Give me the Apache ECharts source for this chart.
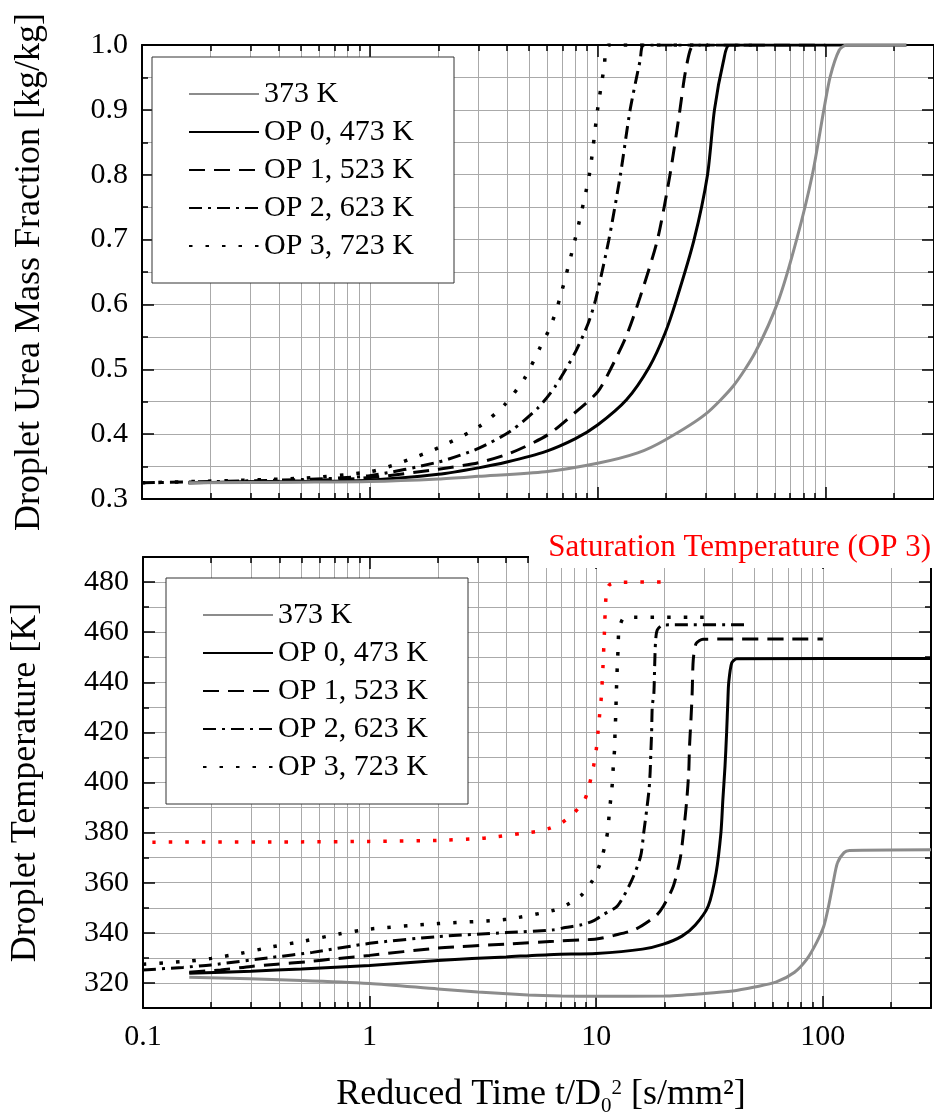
<!DOCTYPE html>
<html><head><meta charset="utf-8">
<script src="https://cdn.jsdelivr.net/npm/echarts@6/dist/echarts.min.js"></script>
<style>html,body{margin:0;padding:0;background:#fff}#c{width:934px;height:1118px}</style>
</head><body><div id="c"></div>
<script>
const FONT = 'Liberation Serif';
const seriesNames = ['373 K', 'OP 0, 473 K', 'OP 1, 523 K', 'OP 2, 623 K', 'OP 3, 723 K'];
const satName = 'Saturation Temperature (OP 3)';
const xLabelValues = [0.1, 1, 10, 100];
const tempMajorTicks = [320, 340, 360, 380, 400, 420, 440, 460, 480];

// Top: droplet urea mass fraction [kg/kg], points [t/D0^2, value]
const mass373 = [[0.16,0.325],[0.5,0.326],[1,0.327],[2,0.331],[3,0.335],[5.9,0.342],[10,0.355],[15,0.371],[19.8,0.391],[29.6,0.430],[39.6,0.475],[49.4,0.527],[62.4,0.607],[74.7,0.699],[87.7,0.80],[98.5,0.90],[105,0.951],[115,0.992],[124,1.0],[227,1.0]];
const massOP0 = [[0.16,0.325],[0.5,0.327],[1,0.329],[2,0.338],[3,0.348],[4,0.357],[5.9,0.373],[8,0.393],[10,0.414],[13.4,0.453],[16.9,0.504],[19.8,0.556],[22.2,0.607],[26.5,0.699],[30.4,0.80],[32.6,0.90],[35.8,0.977],[38,1.0],[227,1.0]];
const massOP1 = [[0.16,0.325],[0.5,0.328],[1,0.333],[2,0.346],[3,0.356],[4.16,0.371],[6.05,0.399],[7.95,0.433],[10,0.465],[11.4,0.500],[13.4,0.552],[15.4,0.612],[18.3,0.699],[20.8,0.80],[23,0.90],[24.1,0.951],[25.4,0.99],[26.5,1.0],[100,1.0]];
const massOP2 = [[0.1,0.325],[0.5,0.330],[1,0.336],[2,0.357],[3,0.378],[4.16,0.405],[5.46,0.440],[6.5,0.473],[7.95,0.525],[9.1,0.571],[9.8,0.607],[11.2,0.699],[12.6,0.80],[13.9,0.90],[15.4,0.977],[16,1.0],[47.6,1.0]];
const massOP3 = [[0.1,0.325],[0.5,0.332],[1,0.342],[1.34,0.355],[2,0.379],[3,0.411],[3.9,0.445],[4.8,0.487],[5.6,0.534],[6.2,0.565],[6.8,0.607],[7.95,0.699],[9.2,0.80],[10,0.90],[10.7,0.966],[11.2,1.0],[30.5,1.0]];

// Bottom: droplet temperature [K]
const temp373 = [[0.16,322.3],[0.5,321],[1,319.8],[2,317.6],[3,316.4],[5,315.2],[7,314.8],[10,314.7],[20,314.8],[30,315.8],[40,316.8],[50,318.4],[62,320.3],[75,324.3],[85,329.5],[94,336.3],[101,342.7],[106,350.7],[111,360],[116,368],[124,372],[131,372.9],[300,373.2]];
const tempOP0 = [[0.16,323.9],[0.3,324.7],[0.5,325.6],[1,327],[2,329],[4,330.4],[6.5,331.4],[10,331.8],[16,333.5],[19.8,335.5],[23.9,338.7],[27.3,343],[31.2,350.7],[33.8,364],[35.5,380],[36.2,393.2],[37,406.5],[37.6,419.8],[38.1,433],[38.4,439.7],[39.6,447.7],[41.7,449.4],[300,449.5]];
const tempOP1 = [[0.16,324.3],[0.22,325.2],[0.3,326.6],[0.39,327.5],[0.52,328.4],[0.73,329.8],[1,331],[2,333.9],[4,335.5],[6.5,336.6],[8.6,337.2],[10,337.5],[12,339],[14.9,341.4],[18.3,346.7],[19.8,350.7],[21.9,358.7],[23.5,370],[24.3,380.6],[25.1,393.2],[25.6,404.5],[25.8,414.5],[26.2,425.8],[26.5,435.7],[26.8,449],[27.6,455.5],[29.6,457.2],[100,457.3]];
const tempOP2 = [[0.1,325.2],[0.15,326.2],[0.2,327.2],[0.37,330.2],[0.56,332.2],[1,335.8],[2,338.5],[4,340.1],[6.5,341.2],[7.3,342.1],[8.6,343.2],[9.7,344.8],[10.8,347.4],[12.4,350.7],[14.3,360.7],[15.7,370.6],[16.2,380],[16.7,389.2],[17.1,397.2],[17.3,404.5],[17.4,411.1],[17.55,419.8],[17.67,430.4],[17.96,435.7],[18.1,446.3],[18.27,456.3],[18.6,460.9],[19.8,462.9],[47.6,463]];
const tempOP3 = [[0.1,327.5],[0.16,328.7],[0.2,329.8],[0.27,331.8],[0.37,334.4],[0.52,336.8],[0.73,339.5],[1,341.5],[2,343.7],[4,345.4],[6.5,349],[7.5,351.4],[8.6,355],[9.6,360.7],[10.34,367],[10.87,374],[11.23,380.4],[11.4,387],[11.6,394],[11.8,400.5],[11.9,407.2],[12.06,413.8],[12.1,420.4],[12.2,427.5],[12.25,434.4],[12.4,447.7],[12.5,454.3],[12.6,460.9],[13.4,466],[30.5,466]];
const tempSat = [[0.11,376.2],[0.5,376.3],[1,376.5],[2,376.9],[3,377.6],[3.4,378],[4.7,379.7],[5.5,380.5],[6.2,381.7],[7.1,384.1],[8,388],[8.9,393.2],[9.35,399.6],[9.73,406.5],[10,413.1],[10.17,419.8],[10.34,426.7],[10.52,433.7],[10.7,445.7],[10.87,460.2],[11.05,474.2],[11.4,478.8],[12.6,479.9],[21.6,480]];

const styles = [
  {color: '#8c8c8c', width: 3, type: 'solid'},
  {color: '#000', width: 3, type: 'solid'},
  {color: '#000', width: 3, type: [16, 9]},
  {color: '#000', width: 3, type: [13, 6, 3, 6]},
  {color: '#000', width: 3.5, type: [3.5, 13]}
];

const axisBlack = {show: true, lineStyle: {color: '#000', width: 2}};
const gridLine = {show: true, lineStyle: {color: '#aaaaaa', width: 1}};
const tickStyle = {color: '#000', width: 1.5};

function xAxisDef(grid, pos, split, labels) {
  const ax = {
    type: 'log', logBase: 10, gridIndex: grid, position: pos, min: 0.1, max: 300,
    axisLine: axisBlack,
    axisTick: {show: true, inside: true, length: 12, lineStyle: tickStyle},
    minorTick: {show: true, splitNumber: 9, length: 6, lineStyle: tickStyle},
    splitLine: {show: split, lineStyle: {color: '#aaaaaa', width: 1}},
    minorSplitLine: {show: split, lineStyle: {color: '#aaaaaa', width: 1}},
    axisLabel: {show: labels, margin: 14, color: '#000', fontFamily: FONT, fontSize: 30,
      formatter: v => (xLabelValues.indexOf(Math.round(v * 1000) / 1000) >= 0 ? String(Math.round(v * 1000) / 1000) : '')}
  };
  if (labels) {
    ax.name = 'Reduced Time t/D{sub|0}{sup|2} [s/mm²]';
    ax.nameLocation = 'middle';
    ax.nameGap = 64;
    ax.nameTextStyle = {color: '#000', fontFamily: FONT, fontSize: 36, padding: [0, 0, 0, 8],
      rich: {sub: {fontFamily: FONT, fontSize: 21, color: '#000', padding: [24, 0, 0, 0]},
             sup: {fontFamily: FONT, fontSize: 21, color: '#000', padding: [0, 0, 13, 0]}}};
  }
  return ax;
}

const option = {
  backgroundColor: '#fff',
  animation: false,
  grid: [
    {left: 142, top: 45, right: -3, height: 454, containLabel: false},
    {left: 142, top: 557, right: -3, height: 452, containLabel: false}
  ],
  xAxis: [
    xAxisDef(0, 'bottom', true, false),
    xAxisDef(0, 'top', false, false),
    xAxisDef(1, 'bottom', true, true),
    xAxisDef(1, 'top', false, false)
  ],
  yAxis: [
    {type: 'value', gridIndex: 0, position: 'left', min: 0.3, max: 1.0, interval: 0.1,
     axisLine: axisBlack,
     axisTick: {show: true, inside: true, length: 12, lineStyle: tickStyle},
     minorTick: {show: true, splitNumber: 2, length: 6, lineStyle: tickStyle},
     splitLine: gridLine, minorSplitLine: gridLine,
     axisLabel: {color: '#000', fontFamily: FONT, fontSize: 30, margin: 14, formatter: v => v.toFixed(1)},
     name: 'Droplet Urea Mass Fraction [kg/kg]', nameLocation: 'middle', nameGap: 94,
     nameTextStyle: {color: '#000', fontFamily: FONT, fontSize: 36}},
    {type: 'value', gridIndex: 0, position: 'right', min: 0.3, max: 1.0, interval: 0.1,
     axisLine: axisBlack,
     axisTick: {show: true, inside: true, length: 12, lineStyle: tickStyle},
     minorTick: {show: true, splitNumber: 2, length: 6, lineStyle: tickStyle},
     splitLine: {show: false}, axisLabel: {show: false}},
    {type: 'value', gridIndex: 1, position: 'left', min: 310, max: 490, interval: 10,
     axisLine: axisBlack,
     axisTick: {show: true, inside: true, length: 6, lineStyle: tickStyle},
     splitLine: gridLine,
     axisLabel: {color: '#000', fontFamily: FONT, fontSize: 30, margin: 14, formatter: v => (v % 20 === 0 ? String(v) : '')},
     name: 'Droplet Temperature [K]', nameLocation: 'middle', nameGap: 99,
     nameTextStyle: {color: '#000', fontFamily: FONT, fontSize: 36}},
    {type: 'value', gridIndex: 1, position: 'right', min: 310, max: 490, interval: 10,
     axisLine: axisBlack,
     axisTick: {show: true, inside: true, length: 6, lineStyle: tickStyle},
     splitLine: {show: false}, axisLabel: {show: false}},
    {type: 'value', gridIndex: 1, position: 'left', min: 310, max: 490, interval: 10,
     axisLine: {show: false}, splitLine: {show: false}, axisLabel: {show: false},
     axisTick: {show: true, inside: true, length: 12, customValues: tempMajorTicks, lineStyle: tickStyle}},
    {type: 'value', gridIndex: 1, position: 'right', min: 310, max: 490, interval: 10,
     axisLine: {show: false}, splitLine: {show: false}, axisLabel: {show: false},
     axisTick: {show: true, inside: true, length: 12, customValues: tempMajorTicks, lineStyle: tickStyle}}
  ],
  legend: [
    {data: seriesNames, orient: 'vertical', left: 152, top: 57, itemWidth: 70, itemHeight: 14, itemGap: 8,
     padding: [22, 40, 22, 36], backgroundColor: '#fff', borderColor: '#333', borderWidth: 1, selectedMode: false,
     itemStyle: {opacity: 0},
     textStyle: {color: '#000', fontFamily: FONT, fontSize: 30, lineHeight: 30}},
    {data: seriesNames, orient: 'vertical', left: 166, top: 578, itemWidth: 70, itemHeight: 14, itemGap: 8,
     padding: [22, 40, 22, 36], backgroundColor: '#fff', borderColor: '#333', borderWidth: 1, selectedMode: false,
     itemStyle: {opacity: 0},
     textStyle: {color: '#000', fontFamily: FONT, fontSize: 30, lineHeight: 30}}
  ],
  graphic: [
    {type: 'rect', z: 100, shape: {x: 529, y: 522, width: 420, height: 46}, style: {fill: '#fff'}},
    {type: 'text', z: 101, x: 931, y: 548, style: {text: satName, fill: '#ff0000', font: '31px "Liberation Serif"', textAlign: 'right', textVerticalAlign: 'middle'}}
  ],
  series: []
};

const topData = [mass373, massOP0, massOP1, massOP2, massOP3];
const botData = [temp373, tempOP0, tempOP1, tempOP2, tempOP3];
function lineSeries(name, xi, yi, data, ls, z) {
  return {name: name, type: 'line', xAxisIndex: xi, yAxisIndex: yi, data: data, symbol: 'none',
    smooth: 0.25, lineStyle: ls, itemStyle: {color: ls.color}, z: z};
}
seriesNames.forEach((n, i) => option.series.push(lineSeries(n, 0, 0, topData[i], styles[i], 10 - i)));
seriesNames.forEach((n, i) => option.series.push(lineSeries(n, 2, 2, botData[i], styles[i], 10 - i)));
option.series.push(lineSeries(satName, 2, 2, tempSat, {color: '#ff0000', width: 3.5, type: [3.5, 13]}, 3));

const chart = echarts.init(document.getElementById('c'), null, {renderer: 'canvas'});
chart.setOption(option);
</script></body></html>
